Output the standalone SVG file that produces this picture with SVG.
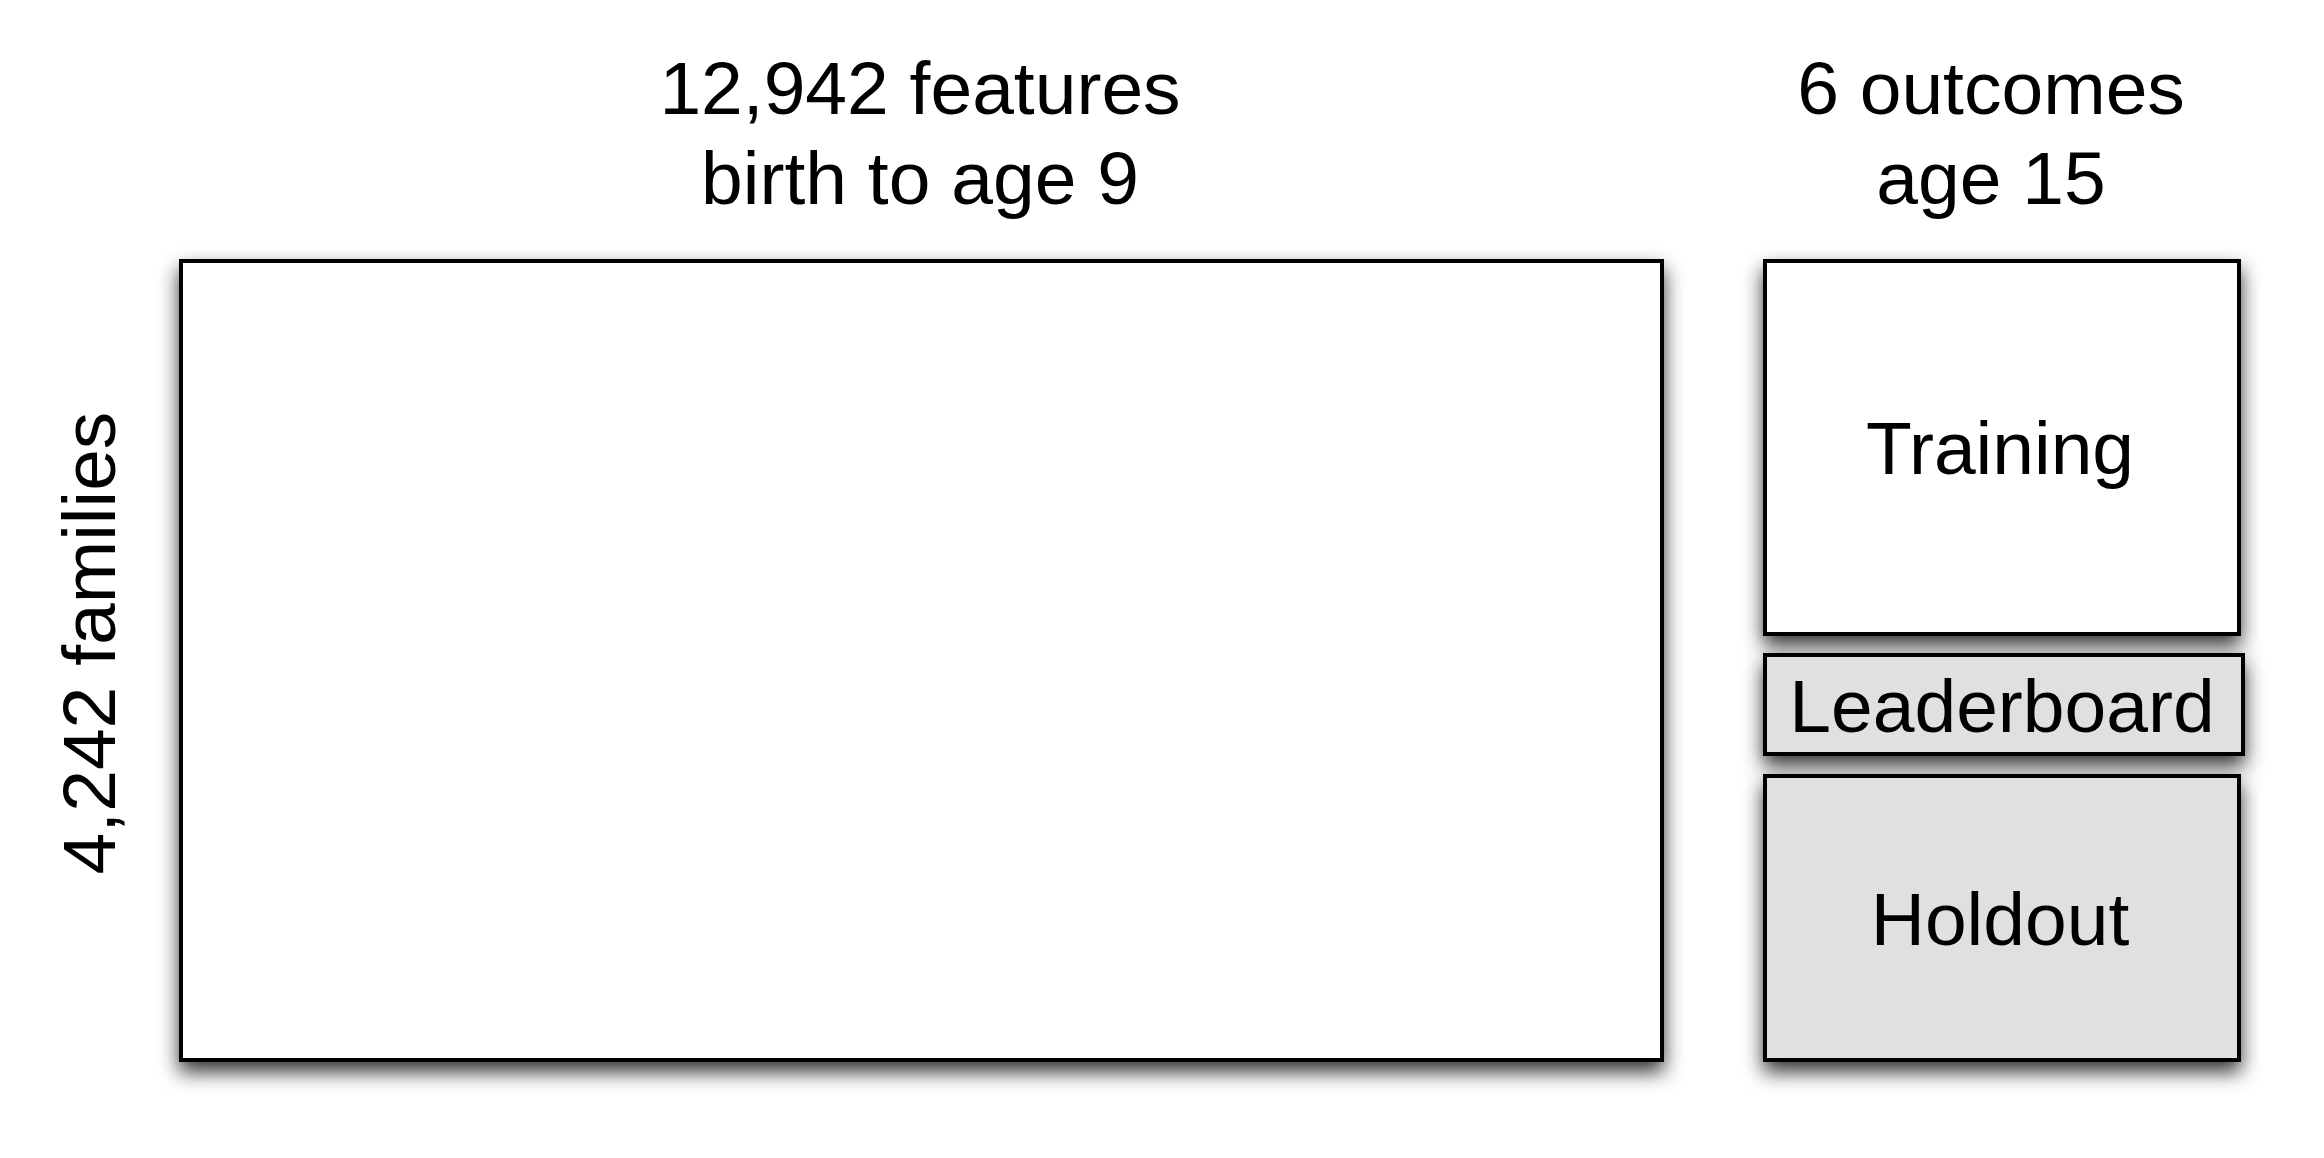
<svg xmlns="http://www.w3.org/2000/svg" width="2324" height="1158" viewBox="0 0 2324 1158">
  <defs>
    <filter id="shadow" filterUnits="userSpaceOnUse" x="0" y="0" width="2324" height="1158">
      <feDropShadow dx="0" dy="10" stdDeviation="10" flood-color="#000" flood-opacity="0.8"/>
    </filter>
    <style>
      .box { stroke: #000; stroke-width: 4; filter: url(#shadow); }
      .white { fill: #ffffff; }
      .gray { fill: #e0e0e0; }
      .lbl { font-family: "Liberation Sans", Arial, Helvetica, sans-serif; font-size: 75px; fill: #000; text-anchor: middle; }
    </style>
  </defs>
  <rect x="0" y="0" width="2324" height="1158" fill="#ffffff"/>

  <g id="features-title">
    <text class="lbl" x="920" y="114">12,942 features</text>
    <text class="lbl" x="920" y="204">birth to age 9</text>
  </g>

  <g id="outcomes-title">
    <text class="lbl" x="1991" y="114">6 outcomes</text>
    <text class="lbl" x="1991" y="204">age 15</text>
  </g>

  <g id="families-label">
    <text class="lbl" transform="translate(115,643) rotate(-90)" x="0" y="0">4,242 families</text>
  </g>

  <g id="features-matrix">
    <rect class="box white" x="181" y="261" width="1481" height="799"/>
  </g>

  <g id="training">
    <rect class="box white" x="1765" y="261" width="474" height="373"/>
    <text class="lbl" x="2000" y="474">Training</text>
  </g>

  <g id="leaderboard">
    <rect class="box gray" x="1765" y="655" width="478" height="99"/>
    <text class="lbl" x="2002" y="732">Leaderboard</text>
  </g>

  <g id="holdout">
    <rect class="box gray" x="1765" y="776" width="474" height="284"/>
    <text class="lbl" x="2000" y="945">Holdout</text>
  </g>

  <g id="connectors"></g>
</svg>
